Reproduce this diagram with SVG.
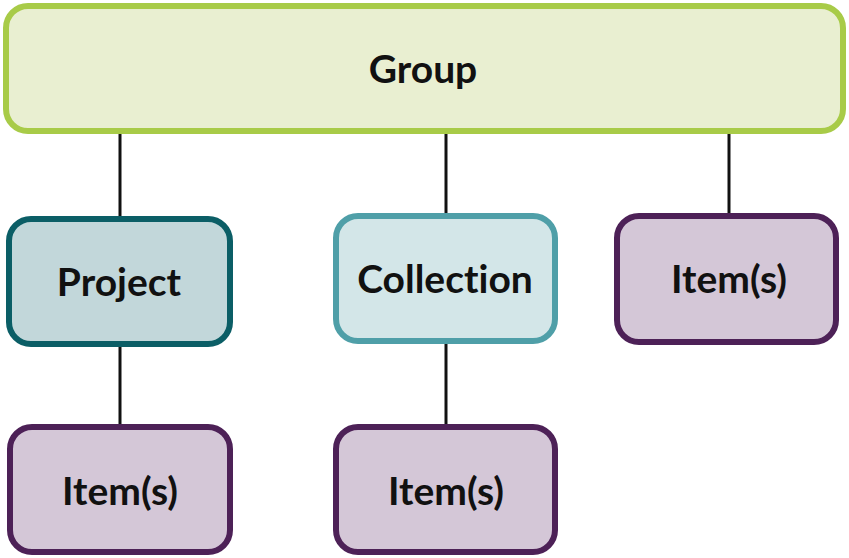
<svg xmlns="http://www.w3.org/2000/svg" width="849" height="558" viewBox="0 0 849 558">
<style>
text{font-family:Lato,"Open Sans",sans-serif;font-weight:bold;font-size:39px;fill:#111;text-anchor:middle;font-variant-ligatures:none}
.box{stroke-width:6}
.group{fill:#e9efd1;stroke:#a8cb48}
.project{fill:#c2d7da;stroke:#0b5e66}
.collection{fill:#d3e6e8;stroke:#4f9fa8}
.item{fill:#d4c7d7;stroke:#4d2157}
.conn line{stroke:#111;stroke-width:3}
</style>
<rect width="849" height="558" fill="#fff"/>
<g class="conn">
<line x1="120" y1="130" x2="120" y2="219"/>
<line x1="446" y1="130" x2="446" y2="216"/>
<line x1="729" y1="130" x2="729" y2="216"/>
<line x1="120" y1="344" x2="120" y2="427"/>
<line x1="446" y1="341" x2="446" y2="427"/>
</g>
<g id="group"><rect class="box group" x="6" y="6" width="837" height="125" rx="22"/><text x="423" y="83">Group</text></g>
<g id="project"><rect class="box project" x="9" y="219" width="221" height="125" rx="22"/><text x="119" y="296">Project</text></g>
<g id="collection"><rect class="box collection" x="336" y="216" width="219" height="125" rx="22"/><text x="445" y="293">Collection</text></g>
<g id="item-right"><rect class="box item" x="617" y="216" width="219" height="126" rx="22"/><text x="729" y="293">Item(s)</text></g>
<g id="item-project"><rect class="box item" x="10" y="427" width="220" height="125" rx="22"/><text x="120" y="505">Item(s)</text></g>
<g id="item-collection"><rect class="box item" x="336" y="427" width="219" height="125" rx="22"/><text x="446" y="505">Item(s)</text></g>
</svg>
